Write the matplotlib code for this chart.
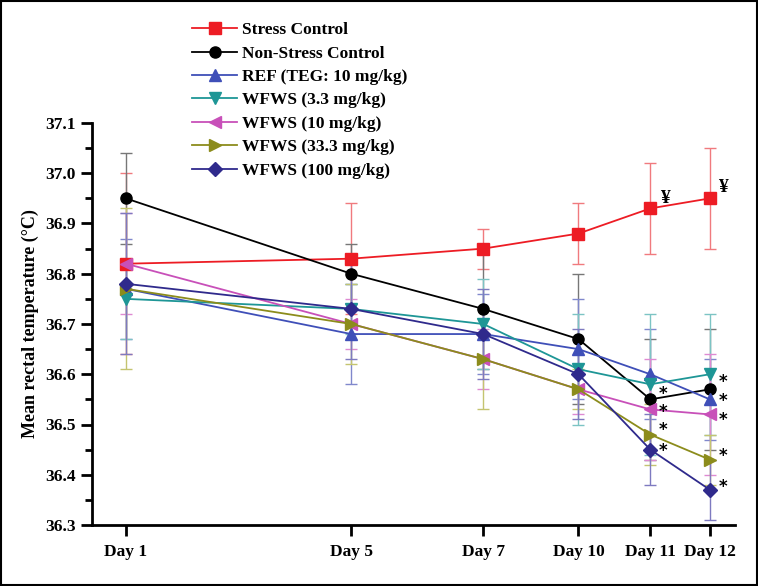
import matplotlib
matplotlib.use("Agg")
import matplotlib.pyplot as plt
from matplotlib.ticker import MultipleLocator, FixedLocator, FormatStrFormatter
from matplotlib.patches import Rectangle

# ---------------- data ----------------
days = ["Day 1", "Day 5", "Day 7", "Day 10", "Day 11", "Day 12"]

stress = [36.82, 36.83, 36.85, 36.88, 36.93, 36.95]
stress_err = [0.18, 0.11, 0.04, 0.06, 0.09, 0.10]
nonstress = [36.95, 36.80, 36.73, 36.67, 36.55, 36.57]
nonstress_err = [0.09, 0.06, 0.12, 0.13, 0.12, 0.12]
ref_teg = [36.77, 36.68, 36.68, 36.65, 36.60, 36.55]
ref_teg_err = [0.10, 0.10, 0.08, 0.10, 0.09, 0.08]
wfws_3_3 = [36.75, 36.73, 36.70, 36.61, 36.58, 36.60]
wfws_3_3_err = [0.08, 0.05, 0.09, 0.11, 0.14, 0.12]
wfws_10 = [36.82, 36.70, 36.63, 36.57, 36.53, 36.52]
wfws_10_err = [0.10, 0.05, 0.06, 0.05, 0.10, 0.12]
wfws_33_3 = [36.77, 36.70, 36.63, 36.57, 36.48, 36.43]
wfws_33_3_err = [0.16, 0.08, 0.10, 0.04, 0.06, 0.05]
wfws_100 = [36.78, 36.73, 36.68, 36.60, 36.45, 36.37]
wfws_100_err = [0.14, 0.10, 0.09, 0.09, 0.07, 0.06]

labels = ["Stress Control", "Non-Stress Control", "REF (TEG: 10 mg/kg)",
          "WFWS (3.3 mg/kg)", "WFWS (10 mg/kg)", "WFWS (33.3 mg/kg)",
          "WFWS (100 mg/kg)"]

# significance marks: (series index, day index, symbol)
marks_series = [0, 0, 1, 1, 2, 4, 4, 5, 5, 6, 6]
marks_day = [4, 5, 4, 5, 5, 4, 5, 4, 5, 4, 5]
marks_sym = ["¥", "¥", "*", "*", "*", "*", "*", "*", "*", "*", "*"]

# ---------------- layout / style ----------------
x_pos = [0, 3.86, 6.12, 7.75, 8.98, 10]
mark_offsets = [(7, 7), (6, 8), (6, 4), (6, 5), (6, -1), (6, -2), (6, -4),
                (6, 3), (6, 3), (6, -1), (6, 2)]
colors = ["#ED1C24", "#000000", "#3F4FB8", "#1E9696", "#C850B9", "#8C8C1C", "#2F2A8C"]
ecolors = ["#F07A7E", "#777777", "#8088CC", "#7CC4C4", "#DE8AD2", "#C4C470", "#7E7AC0"]
markers = ["s", "o", "^", "v", "<", ">", "D"]
msizes = [8, 8, 9, 9, 9, 9, 7]

means = [stress, nonstress, ref_teg, wfws_3_3, wfws_10, wfws_33_3, wfws_100]
errs = [stress_err, nonstress_err, ref_teg_err, wfws_3_3_err, wfws_10_err,
        wfws_33_3_err, wfws_100_err]

plt.rcParams['font.family'] = ['Liberation Serif', 'DejaVu Serif']
plt.rcParams['font.weight'] = 'bold'

fig = plt.figure(figsize=(7.58, 5.86), dpi=100)
ax = fig.add_axes([92 / 758, 61 / 586, (735 - 92) / 758, (525 - 123) / 586])

handles = []
for i in range(len(means)):
    ax.errorbar(x_pos, means[i], yerr=errs[i], fmt="none", ecolor=ecolors[i],
                elinewidth=1.0, capsize=4, capthick=1.0, zorder=2)
    h, = ax.plot(x_pos, means[i], color=colors[i], marker=markers[i],
                 markersize=msizes[i], linewidth=1.3, zorder=3, label=labels[i])
    handles.append(h)

for s, d, sym, off in zip(marks_series, marks_day, marks_sym, mark_offsets):
    if sym == "¥":
        ax.annotate(sym, (x_pos[d], means[s][d]), xytext=off, textcoords="offset points",
                    ha="left", va="center", fontsize=14, fontweight="bold",
                    family=['Liberation Serif', 'DejaVu Sans'], color="black", zorder=5)
    else:
        ax.annotate(sym, (x_pos[d], means[s][d]), xytext=off, textcoords="offset points",
                    ha="left", va="center", fontsize=12, fontweight="bold",
                    family=['DejaVu Sans'], color="black", zorder=5)

ax.set_xlim(-0.58, 10.43)
ax.set_ylim(36.3, 37.1)
ax.xaxis.set_major_locator(FixedLocator(x_pos))
ax.set_xticklabels(days)
ax.yaxis.set_major_locator(MultipleLocator(0.1))
ax.yaxis.set_minor_locator(MultipleLocator(0.05))
ax.yaxis.set_major_formatter(FormatStrFormatter("%.1f"))

for sp in ["top", "right"]:
    ax.spines[sp].set_visible(False)
for sp in ["left", "bottom"]:
    ax.spines[sp].set_linewidth(2.0)

ax.tick_params(axis="both", which="major", direction="out", length=8, width=2,
               labelsize=12.5)
ax.tick_params(axis="y", which="minor", direction="out", length=5, width=2)
ax.tick_params(axis="x", which="major", pad=6)
for t in ax.get_xticklabels() + ax.get_yticklabels():
    t.set_fontweight("bold")

fig.text(30 / 758, 1 - 324 / 586, "Mean rectal temperature (°C)", rotation=90,
         ha="center", va="center", fontsize=13, fontweight="bold")

leg = fig.legend(handles=handles, loc="upper left",
                 bbox_to_anchor=(192 / 758, 1 - 22 / 586),
                 frameon=False, borderpad=0, borderaxespad=0,
                 handlelength=2.6, handletextpad=0.3, labelspacing=0.42,
                 prop={"family": "Liberation Serif", "weight": "bold", "size": 12.5})

fig.patches.append(Rectangle((0.001, 0.001), 0.998, 0.998, transform=fig.transFigure,
                             fill=False, edgecolor="black", linewidth=1.5))

fig.savefig("out.png", dpi=100)
